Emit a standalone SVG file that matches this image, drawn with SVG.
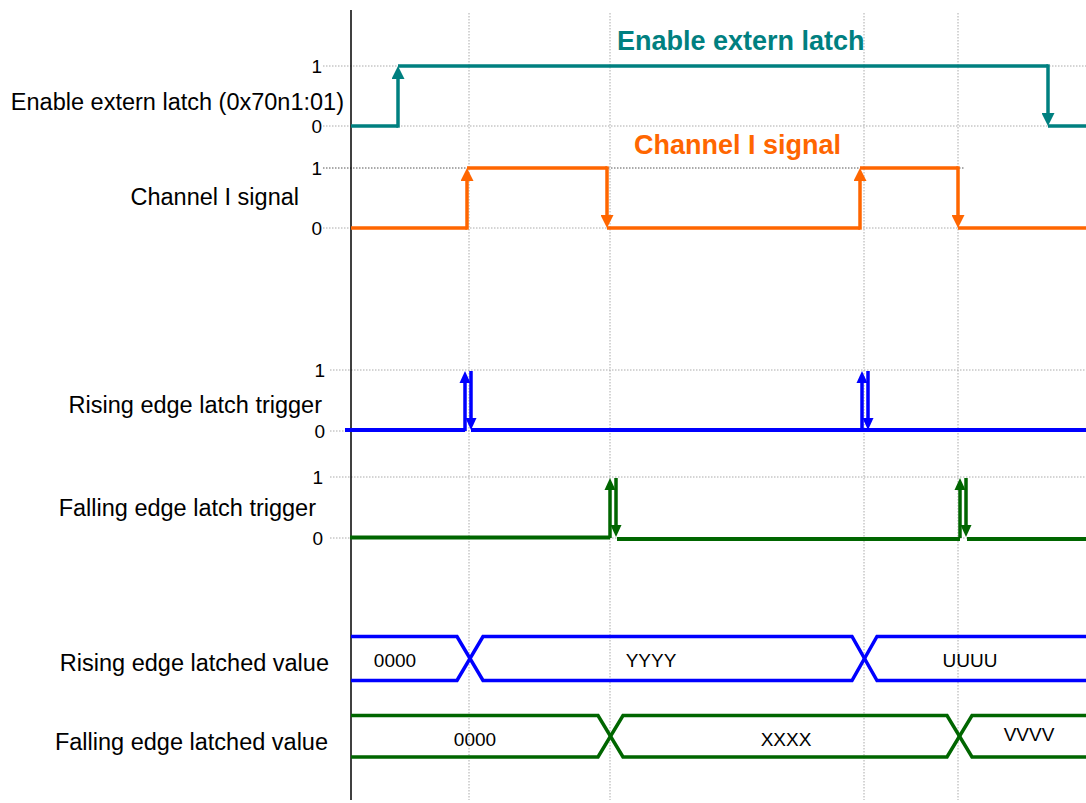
<svg xmlns="http://www.w3.org/2000/svg" width="1086" height="803" viewBox="0 0 1086 803">
<style>
.lbl{font-family:"Liberation Sans",Arial,sans-serif;font-size:23.5px;fill:#000;text-anchor:end}
.num{font-family:"Liberation Sans",Arial,sans-serif;font-size:19px;fill:#000;text-anchor:end}
.bus{font-family:"Liberation Sans",Arial,sans-serif;font-size:19px;fill:#000;text-anchor:middle}
.ttl{font-family:"Liberation Sans",Arial,sans-serif;font-size:27px;font-weight:bold}
.grid{stroke:#aaa;stroke-width:1;stroke-dasharray:1.5,1.5;fill:none}
.sig{fill:none;stroke-width:3.5;stroke-linejoin:miter}
.teal{stroke:#008080}
.orange{stroke:#FF6600}
.blue{stroke:#0000FF}
.green{stroke:#006600}
</style>
<defs>
<marker id="aTeal" viewBox="0 0 12 12" refX="6" refY="6" markerWidth="13" markerHeight="13" markerUnits="userSpaceOnUse" orient="auto"><path d="M0,0 L12,6 L0,12 z" fill="#008080"/></marker>
<marker id="aOrange" viewBox="0 0 12 12" refX="6" refY="6" markerWidth="13" markerHeight="13" markerUnits="userSpaceOnUse" orient="auto"><path d="M0,0 L12,6 L0,12 z" fill="#FF6600"/></marker>
<marker id="aBlue" viewBox="0 0 12 12" refX="6" refY="6" markerWidth="12" markerHeight="12" markerUnits="userSpaceOnUse" orient="auto"><path d="M0,0.5 L12,6 L0,11.5 z" fill="#0000FF"/></marker>
<marker id="aGreen" viewBox="0 0 12 12" refX="6" refY="6" markerWidth="12" markerHeight="12" markerUnits="userSpaceOnUse" orient="auto"><path d="M0,0.5 L12,6 L0,11.5 z" fill="#006600"/></marker>
</defs>

<g id="grid">
<line class="grid" x1="469" y1="13" x2="469" y2="800"/>
<line class="grid" x1="610" y1="13" x2="610" y2="800"/>
<line class="grid" x1="864" y1="13" x2="864" y2="800"/>
<line class="grid" x1="958" y1="13" x2="958" y2="800"/>
<line class="grid" x1="323" y1="66" x2="1086" y2="66"/>
<line class="grid" x1="323" y1="126" x2="1086" y2="126"/>
<line class="grid" x1="323" y1="168" x2="965" y2="168" style="stroke:#555"/>
<line class="grid" x1="323" y1="228" x2="1086" y2="228"/>
<line class="grid" x1="330" y1="370" x2="1086" y2="370"/>
<line class="grid" x1="330" y1="431" x2="1086" y2="431"/>
<line class="grid" x1="330" y1="477" x2="1086" y2="477"/>
<line class="grid" x1="330" y1="538" x2="1086" y2="538"/>
<line x1="351" y1="10" x2="351" y2="800" stroke="#000" stroke-width="1.5"/>
</g>

<g id="labels">
<text class="lbl" x="344" y="110">Enable extern latch (0x70n1:01)</text>
<text class="lbl" x="299" y="205">Channel I signal</text>
<text class="lbl" x="322" y="413">Rising edge latch trigger</text>
<text class="lbl" x="316" y="516">Falling edge latch trigger</text>
<text class="lbl" x="329" y="671">Rising edge latched value</text>
<text class="lbl" x="328" y="750">Falling edge latched value</text>
<text class="num" x="322" y="73">1</text>
<text class="num" x="322" y="133">0</text>
<text class="num" x="322" y="175">1</text>
<text class="num" x="322" y="235">0</text>
<text class="num" x="325" y="377">1</text>
<text class="num" x="325" y="438">0</text>
<text class="num" x="323" y="484">1</text>
<text class="num" x="323" y="545">0</text>
<text class="ttl" x="617" y="50" fill="#008080">Enable extern latch</text>
<text class="ttl" x="634" y="154" fill="#FF6600">Channel I signal</text>
</g>

<g id="enable">
<path class="sig teal" d="M351,126 H398 M398,66 H1048 M1048,126 H1086"/>
<path class="sig teal" d="M398,127.7 V72.5" marker-end="url(#aTeal)"/>
<path class="sig teal" d="M1048,64.3 V119.5" marker-end="url(#aTeal)"/>
</g>

<g id="channel">
<path class="sig orange" d="M351,228 H467 M467,168 H607 M607,228 H860 M860,168 H958 M958,228 H1086"/>
<path class="sig orange" d="M467,229.7 V174.5" marker-end="url(#aOrange)"/>
<path class="sig orange" d="M607,166.3 V221.5" marker-end="url(#aOrange)"/>
<path class="sig orange" d="M860,229.7 V174.5" marker-end="url(#aOrange)"/>
<path class="sig orange" d="M958,166.3 V221.5" marker-end="url(#aOrange)"/>
</g>

<g id="rising-trigger">
<path class="sig blue" style="stroke-width:4" d="M345,430 H465 M471,430 H1086"/>
<path class="sig blue" d="M465,431 V377" marker-end="url(#aBlue)"/>
<path class="sig blue" d="M471,371 V424" marker-end="url(#aBlue)"/>
<path class="sig blue" d="M862,431 V377" marker-end="url(#aBlue)"/>
<path class="sig blue" d="M868,371 V424" marker-end="url(#aBlue)"/>
</g>

<g id="falling-trigger">
<path class="sig green" style="stroke-width:4" d="M350,537.5 H610 M617,539 H960 M967,539 H1086"/>
<path class="sig green" d="M610,538 V484" marker-end="url(#aGreen)"/>
<path class="sig green" d="M616,478 V531" marker-end="url(#aGreen)"/>
<path class="sig green" d="M960,538 V484" marker-end="url(#aGreen)"/>
<path class="sig green" d="M966,478 V531" marker-end="url(#aGreen)"/>
</g>

<g id="rising-bus">
<path class="sig blue" d="M351,636.5 H457 L483,680.5 H852 L877,636.5 H1086"/>
<path class="sig blue" d="M351,680.5 H457 L483,636.5 H852 L877,680.5 H1086"/>
<text class="bus" x="395" y="667">0000</text>
<text class="bus" x="651" y="667">YYYY</text>
<text class="bus" x="970" y="667">UUUU</text>
</g>

<g id="falling-bus">
<path class="sig green" d="M351,715.5 H598 L623,757 H947 L972,715.5 H1086"/>
<path class="sig green" d="M351,757 H598 L623,715.5 H947 L972,757 H1086"/>
<text class="bus" x="475" y="746">0000</text>
<text class="bus" x="786" y="746">XXXX</text>
<text class="bus" x="1029" y="741">VVVV</text>
</g>
</svg>
